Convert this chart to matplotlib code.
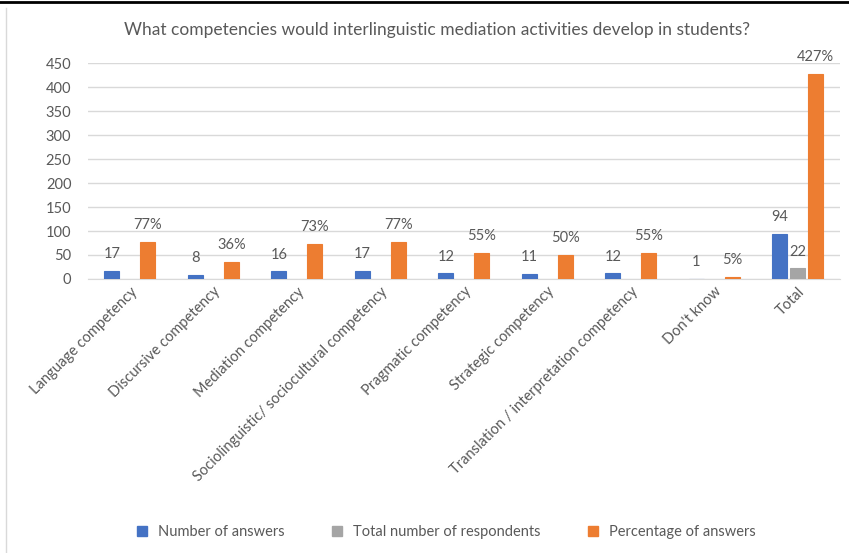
import numpy as np
import matplotlib.pyplot as plt
from matplotlib.lines import Line2D

plt.rcParams['font.family'] = ['Lato', 'DejaVu Sans']

categories = [
    'Language competency',
    'Discursive competency',
    'Mediation competency',
    'Sociolinguistic/ sociocultural competency',
    'Pragmatic competency',
    'Strategic competency',
    'Translation / interpretation competency',
    "Don't know",
    'Total',
]
number_of_answers = [17, 8, 16, 17, 12, 11, 12, 1, 94]
total_respondents = [None, None, None, None, None, None, None, None, 22]
percentage_of_answers = [77, 36, 73, 77, 55, 50, 55, 5, 427]

series = [
    ('Number of answers', number_of_answers, '#4472C4', '{:d}'),
    ('Total number of respondents', total_respondents, '#A5A5A5', '{:d}'),
    ('Percentage of answers', percentage_of_answers, '#ED7D31', '{:d}%'),
]

TEXT = '#595959'

fig = plt.figure(figsize=(8.49, 5.53), dpi=100)
ax = fig.add_axes([0.1037, 0.4955, 0.8853, 0.3905])

x = np.arange(len(categories))
width = 0.18
step = 0.215

for i, (name, vals, color, fmt) in enumerate(series):
    pos = x + (i - 1) * step
    h = np.array([np.nan if v is None else v for v in vals], dtype=float)
    bars = ax.bar(pos, h, width, color=color, edgecolor=color, linewidth=0.8,
                  label=name, zorder=3)
    for b, v in zip(bars, vals):
        if v is None:
            continue
        ax.annotate(fmt.format(v), (b.get_x() + b.get_width() / 2, v),
                    xytext=(0, 7), textcoords='offset points',
                    ha='center', va='bottom', fontsize=10.5, color=TEXT)

ax.set_ylim(0, 450)
ax.set_xlim(-0.5, len(categories) - 0.5)
ax.set_yticks(range(0, 451, 50))
ax.yaxis.grid(True, color='#D9D9D9', linewidth=1, zorder=0)
ax.set_axisbelow(True)
for s in ['top', 'right', 'left']:
    ax.spines[s].set_visible(False)
ax.spines['bottom'].set_color('#D9D9D9')
ax.spines['bottom'].set_zorder(1)
ax.tick_params(axis='y', length=0, pad=12, labelsize=10.5, labelcolor=TEXT)
ax.tick_params(axis='x', length=0, pad=4, labelsize=10.5, labelcolor=TEXT)
ax.set_xticks(x)
ax.set_xticklabels(categories, rotation=45, ha='right', rotation_mode='anchor')

fig.text(0.515, 0.945, 'What competencies would interlinguistic mediation activities develop in students?',
         ha='center', va='center', fontsize=12.5, color=TEXT)

handles = [Line2D([], [], marker='s', linestyle='none', markersize=7,
                  markerfacecolor=c, markeredgecolor=c) for _, _, c, _ in series]
fig.legend(handles, [s[0] for s in series], loc='center', bbox_to_anchor=(0.52, 0.038),
           ncol=3, frameon=False, fontsize=10.5, labelcolor=TEXT,
           handletextpad=0.1, columnspacing=2.6)

# screenshot frame
fig.add_artist(Line2D([0, 1], [0.996, 0.996], transform=fig.transFigure, color='black', linewidth=2))
fig.add_artist(Line2D([0.007, 0.007], [0, 0.985], transform=fig.transFigure, color='#D9D9D9', linewidth=1))

fig.savefig('out.png', dpi=100)
